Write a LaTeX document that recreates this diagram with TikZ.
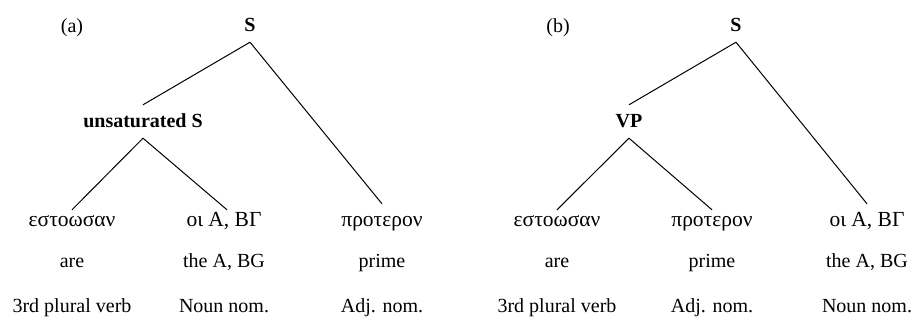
\documentclass[tikz,border=0pt]{standalone}
\usepackage{fontspec}
\setmainfont{Liberation Serif}
\begin{document}
\begin{tikzpicture}[x=1pt,y=-1pt,
  txt/.style={anchor=base,inner sep=0pt,font=\fontsize{20}{24}\selectfont},
  treenode/.style={anchor=base,inner xsep=0pt,inner ysep=10pt,text height=13pt,text depth=0pt,font=\fontsize{20}{24}\selectfont},
  greek/.style={treenode,font=\fontsize{21.5}{24}\selectfont},
  cat/.style={treenode,font=\fontsize{20}{24}\selectfont\bfseries},
  edge/.style={line width=1pt}]
\useasboundingbox (0,0) rectangle (916,328);

% ---- tree (a) ----
\node[txt] (la) at (72,33) {(a)};
\node[cat] (sa) at (250,32) {S};
\node[cat] (ua) at (143,128) {unsaturated S};
\node[greek] (a1) at (72,227) {εστοωσαν};
\node[greek] (a2) at (224,227) {οι Α, ΒΓ};
\node[greek] (a3) at (382,227) {προτερον};
\node[txt] (a1g) at (72,268) {are};
\node[txt] (a2g) at (224,268) {the A, BG};
\node[txt] (a3g) at (382,268) {prime};
\node[txt] (a1c) at (72,313) {3rd plural verb};
\node[txt] (a2c) at (224,313) {Noun nom.};
\node[txt] (a3c) at (382,313) {Adj. nom.};
\draw[edge] (sa.south) -- (ua.north);
\draw[edge] (sa.south) -- (a3.north);
\draw[edge] (ua.south) -- ([yshift=-6pt]a1.north);
\draw[edge] (ua.south) -- ([xshift=3pt,yshift=-6pt]a2.north);

% ---- tree (b) ----
\node[txt] (lb) at (558,33) {(b)};
\node[cat] (sb) at (736,32) {S};
\node[cat] (vp) at (629,128) {VP};
\node[greek] (b1) at (557,227) {εστοωσαν};
\node[greek] (b2) at (712,227) {προτερον};
\node[greek] (b3) at (867,227) {οι Α, ΒΓ};
\node[txt] (b1g) at (557,268) {are};
\node[txt] (b2g) at (712,268) {prime};
\node[txt] (b3g) at (867,268) {the A, BG};
\node[txt] (b1c) at (557,313) {3rd plural verb};
\node[txt] (b2c) at (712,313) {Adj. nom.};
\node[txt] (b3c) at (867,313) {Noun nom.};
\draw[edge] (sb.south) -- (vp.north);
\draw[edge] (sb.south) -- (b3.north);
\draw[edge] (vp.south) -- ([yshift=-6pt]b1.north);
\draw[edge] (vp.south) -- ([yshift=-6pt]b2.north);
\end{tikzpicture}
\end{document}
